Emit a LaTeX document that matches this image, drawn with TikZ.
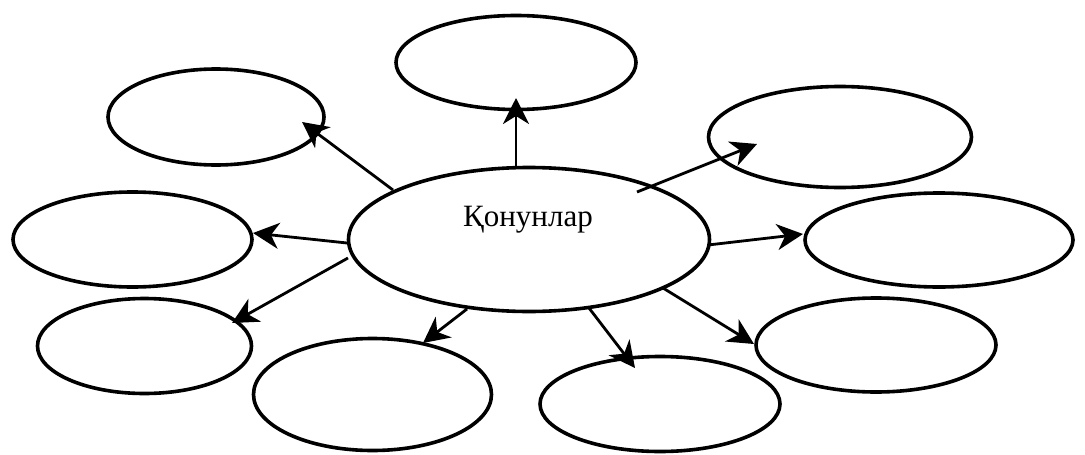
\documentclass[tikz,border=0pt]{standalone}
\usepackage{fontspec}
\setmainfont{Liberation Serif}
\usetikzlibrary{shapes.geometric,arrows.meta,calc}
\begin{document}
\begin{tikzpicture}[x=1pt,y=-1pt,
  oval/.style={draw,ellipse,line width=3.6pt,inner sep=0pt,outer sep=0pt},
  conn/.style={line width=2.8pt,-{Stealth[length=26pt,width=26pt,inset=8pt]}}]
\useasboundingbox (0,0) rectangle (1085,455);
\node[oval,minimum width=361pt,minimum height=144pt] (C) at (529,239.5) {};
\node[anchor=base,font=\fontsize{31}{37}\selectfont] (lbl) at (528,226) {Қонунлар};
\node[oval,minimum width=240pt,minimum height=94pt] (T) at (516,62.5) {};
\node[oval,minimum width=216pt,minimum height=96pt] (UL) at (216,117) {};
\node[oval,minimum width=263pt,minimum height=101pt] (UR) at (840,137) {};
\node[oval,minimum width=239pt,minimum height=95pt] (LM) at (132.5,239.5) {};
\node[oval,minimum width=268pt,minimum height=94pt] (RM) at (939,240) {};
\node[oval,minimum width=214pt,minimum height=95pt] (LL) at (144.5,346) {};
\node[oval,minimum width=238pt,minimum height=112pt] (BL) at (372.5,394.5) {};
\node[oval,minimum width=240pt,minimum height=95pt] (BR) at (660,404) {};
\node[oval,minimum width=240pt,minimum height=94pt] (RL) at (876,345) {};
\draw[conn] ($(C)+(-13,-73.5)$) -- ($(T)+(0,35.5)$);
\draw[conn] ($(C)+(-136,-49.5)$) -- ($(UL)+(86,5)$);
\draw[conn] ($(C)+(-182,3.5)$) -- ($(LM)+(120.5,-6.5)$);
\draw[conn] ($(C)+(-181,18.5)$) -- ($(LL)+(87.5,-23)$);
\draw[conn] ($(C)+(-62,69.5)$) -- ($(BL)+(50.5,-51.5)$);
\draw[conn] ($(C)+(60,68.5)$) -- ($(BR)+(-25,-36)$);
\draw[conn] ($(C)+(134,48.5)$) -- ($(RL)+(-122,-1)$);
\draw[conn] ($(C)+(179,5.5)$) -- ($(RM)+(-136,-6)$);
\draw[conn] ($(C)+(108,-47.5)$) -- ($(UR)+(-83,7)$);
\end{tikzpicture}
\end{document}
